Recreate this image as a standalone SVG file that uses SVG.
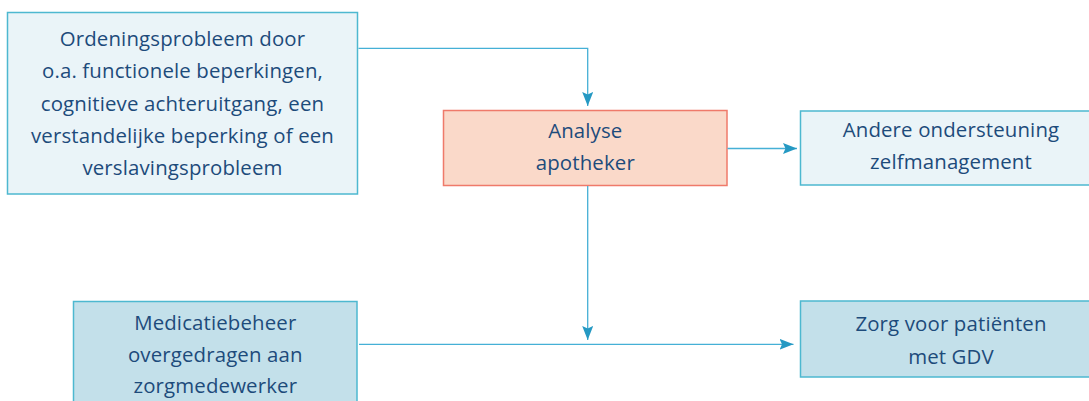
<svg xmlns="http://www.w3.org/2000/svg" width="1089" height="401" viewBox="0 0 1089 401">
  <style>
    .box-light { fill: #eaf4f8; stroke: #4db8d0; stroke-width: 1.5; }
    .box-mid { fill: #c3e0ea; stroke: #4db8d0; stroke-width: 1.5; }
    .box-accent { fill: #fad9c9; stroke: #ef7a6a; stroke-width: 1.5; }
    .label { font-family: "Open Sans", "Noto Sans", "Liberation Sans", sans-serif; font-size: 20.4px; letter-spacing: 0.15px; fill: #1d4b7b; text-anchor: middle; }
    .conn { fill: none; stroke: #45b0d6; stroke-width: 1.3; }
  </style>
  <defs>
    <marker id="arrow" markerUnits="userSpaceOnUse" markerWidth="15" markerHeight="12" refX="14" refY="5.5" orient="auto">
      <path d="M0,0 L14,5.5 L0,11 L2.5,5.5 z" fill="#2599c3"/>
    </marker>
  </defs>
  <rect width="1089" height="401" fill="#ffffff"/>

  <g id="node-ordening">
    <rect class="box-light" x="7.5" y="12.5" width="350" height="181.5"/>
    <text class="label" x="182.5" y="46">Ordeningsprobleem door</text>
    <text class="label" x="182.5" y="78.3">o.a. functionele beperkingen,</text>
    <text class="label" x="182.5" y="110.6">cognitieve achteruitgang, een</text>
    <text class="label" x="182.5" y="142.8">verstandelijke beperking of een</text>
    <text class="label" x="182.5" y="175">verslavingsprobleem</text>
  </g>

  <g id="node-analyse">
    <rect class="box-accent" x="443.5" y="110.5" width="283.5" height="75"/>
    <text class="label" x="585.3" y="138.3">Analyse</text>
    <text class="label" x="585.3" y="169.5">apotheker</text>
  </g>

  <g id="node-andere">
    <rect class="box-light" x="800.5" y="111" width="300" height="74"/>
    <text class="label" x="951" y="136.7">Andere ondersteuning</text>
    <text class="label" x="951" y="169.3">zelfmanagement</text>
  </g>

  <g id="node-medicatie">
    <rect class="box-mid" x="73.5" y="301.5" width="283.5" height="110"/>
    <text class="label" x="215.3" y="330">Medicatiebeheer</text>
    <text class="label" x="215.3" y="361.7">overgedragen aan</text>
    <text class="label" x="215.3" y="393.3">zorgmedewerker</text>
  </g>

  <g id="node-zorg">
    <rect class="box-mid" x="800.5" y="301" width="300" height="76"/>
    <text class="label" x="951" y="331">Zorg voor patiënten</text>
    <text class="label" x="951" y="363.5">met GDV</text>
  </g>

  <g id="connectors">
    <path class="conn" d="M358.5,48.3 H587.7 V106" marker-end="url(#arrow)"/>
    <path class="conn" d="M727.5,148.5 H797" marker-end="url(#arrow)"/>
    <path class="conn" d="M587.7,186 V340" marker-end="url(#arrow)"/>
    <path class="conn" d="M359,344.3 H793.5" marker-end="url(#arrow)"/>
  </g>
</svg>
